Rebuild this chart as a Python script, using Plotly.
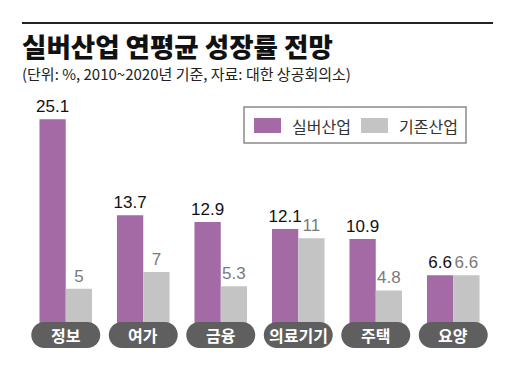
import plotly.graph_objects as go

categories = ["정보", "여가", "금융", "의료기기", "주택", "요양"]
silver = [25.1, 13.7, 12.9, 12.1, 10.9, 6.6]
existing = [5, 7, 5.3, 11, 4.8, 6.6]
series_names = ["실버산업", "기존산업"]
title = "실버산업 연평균 성장률 전망"
subtitle = "(단위: %, 2010~2020년 기준, 자료: 대한 상공회의소)"

PURPLE = "#a46aa5"
GRAY = "#c4c4c4"
PILL = "#5f5f5f"
KR = "Noto Sans CJK KR"
NUM = "Liberation Sans Narrow, Arial Narrow, Liberation Sans, sans-serif"

W, H = 510, 371
ML, MR, MT, MB = 27, 18, 100, 11
PW, PH = W - ML - MR, H - MT - MB
plot_bottom = H - MB

def px(x):
    return (x - ML) / PW

def py(y):
    return (plot_bottom - y) / PH

xs = list(range(len(categories)))

fig = go.Figure()
fig.add_trace(go.Bar(
    x=xs, y=silver, name=series_names[0], marker=dict(color=PURPLE, line=dict(width=0)),
    text=[f"{v:g}" for v in silver], textposition="outside", constraintext="none",
    textfont=dict(family=NUM, size=17, color="#111111"), cliponaxis=False,
))
fig.add_trace(go.Bar(
    x=xs, y=existing, name=series_names[1], marker=dict(color=GRAY, line=dict(width=0)),
    text=[f"{v:g}" for v in existing], textposition="outside", constraintext="none",
    textfont=dict(family=NUM, size=17, color="#7a7a7a"), cliponaxis=False,
))

shapes = []
annotations = []

# category pills
pill_w, pill_h = 69, 26
r = pill_h / 2
hw = pill_w / 2
k = 0.5523 * r
pill_path = (
    f"M {-hw + r},{-r} L {hw - r},{-r} "
    f"C {hw - r + k},{-r} {hw},{-k} {hw},0 "
    f"C {hw},{k} {hw - r + k},{r} {hw - r},{r} "
    f"L {-hw + r},{r} "
    f"C {-hw + r - k},{r} {-hw},{k} {-hw},0 "
    f"C {-hw},{-k} {-hw + r - k},{-r} {-hw + r},{-r} Z"
)
pill_y = -0.47
for i, c in enumerate(categories):
    shapes.append(dict(
        type="path", xref="x", yref="y", xsizemode="pixel", ysizemode="pixel",
        xanchor=i, yanchor=pill_y, path=pill_path,
        fillcolor=PILL, line=dict(width=0), layer="above",
    ))
    annotations.append(dict(
        x=i, y=pill_y, xref="x", yref="y", text=c, showarrow=False,
        font=dict(family=KR, size=16, color="white", weight=600),
        xanchor="center", yanchor="middle",
    ))

# top rule
shapes.append(dict(type="line", xref="paper", yref="paper",
                   x0=px(22), x1=px(493), y0=py(23), y1=py(23),
                   line=dict(color="#222222", width=2)))

# title & subtitle
annotations.append(dict(x=px(20), y=py(45), xref="paper", yref="paper",
                        text=title, showarrow=False, xanchor="left", yanchor="middle",
                        font=dict(family=KR, size=26.5, color="#111111", weight=900)))
annotations.append(dict(x=px(20), y=py(74), xref="paper", yref="paper",
                        text=subtitle, showarrow=False, xanchor="left", yanchor="middle",
                        font=dict(family=KR, size=15, color="#222222")))

# legend box
shapes.append(dict(type="rect", xref="paper", yref="paper",
                   x0=px(244), x1=px(466), y0=py(107), y1=py(143),
                   line=dict(color="#8a8a8a", width=1.5), fillcolor="white", layer="below"))
legend_items = [(series_names[0], PURPLE, 254, 290), (series_names[1], GRAY, 361, 397)]
for name, col, sx, tx in legend_items:
    shapes.append(dict(type="rect", xref="paper", yref="paper",
                       x0=px(sx), x1=px(sx + 27), y0=py(118), y1=py(133),
                       line=dict(width=0), fillcolor=col))
    annotations.append(dict(x=px(tx), y=py(125.5), xref="paper", yref="paper",
                            text=name, showarrow=False, xanchor="left", yanchor="middle",
                            font=dict(family=KR, size=16, color="#333333")))

scale = 8.44
fig.update_layout(
    width=W, height=H,
    margin=dict(l=ML, r=MR, t=MT, b=MB),
    paper_bgcolor="white", plot_bgcolor="white",
    barmode="group", bargap=0.322, bargroupgap=0,
    showlegend=False,
    xaxis=dict(range=[-0.5, 5.5], visible=False, fixedrange=True),
    yaxis=dict(range=[-(plot_bottom - 331) / scale, (331 - MT) / scale],
               visible=False, fixedrange=True),
    shapes=shapes, annotations=annotations,
)

fig.write_html(
    "out.html",
    config=dict(displayModeBar=False),
    post_script="document.body.style.margin='0';document.body.style.padding='0';",
)
